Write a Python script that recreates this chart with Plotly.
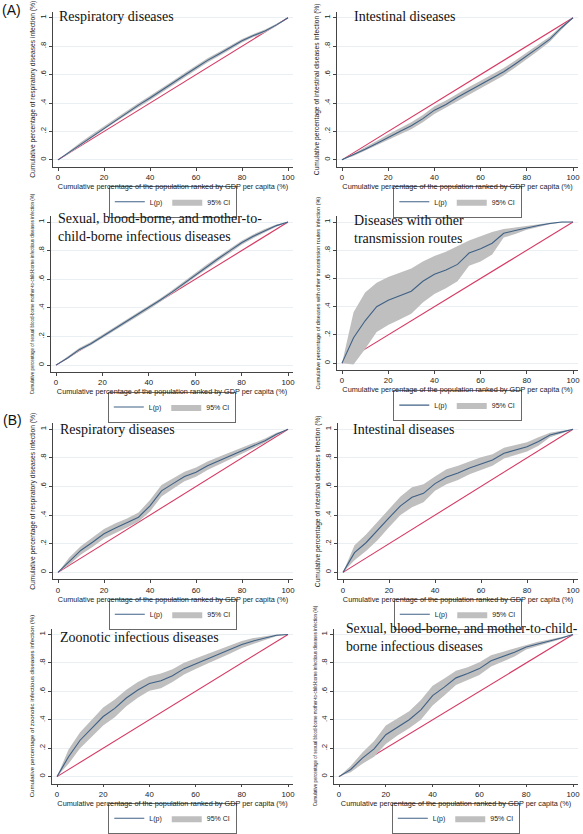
import plotly.graph_objects as go

W, H = 583, 834


def px(p):
    return p / W


def py(p):
    return 1 - p / H


# ---------------- data ----------------
P = [0, 5, 10, 15, 20, 25, 30, 35, 40, 45, 50, 55, 60, 65, 70, 75, 80, 85, 90, 95, 100]
EQ_X = [0, 100]
EQ_Y = [0, 1]

resp_a_L  = [0, .055, .115, .170, .225, .280, .335, .385, .435, .490, .540, .595, .648, .700, .745, .790, .838, .875, .907, .950, 1.0]
resp_a_lo = [0, .047, .104, .158, .212, .266, .320, .370, .419, .473, .523, .578, .632, .685, .731, .777, .826, .864, .897, .942, 1.0]
resp_a_hi = [0, .063, .126, .182, .238, .294, .350, .400, .451, .507, .557, .612, .664, .715, .759, .803, .850, .886, .917, .958, 1.0]

int_a_L  = [0, .035, .075, .115, .160, .200, .240, .290, .350, .390, .440, .485, .530, .575, .620, .675, .730, .790, .850, .930, 1.0]
int_a_lo = [0, .027, .062, .098, .140, .178, .216, .264, .322, .362, .412, .458, .503, .548, .594, .650, .707, .768, .832, .918, 1.0]
int_a_hi = [0, .043, .088, .132, .180, .222, .264, .316, .378, .418, .468, .512, .557, .602, .646, .700, .753, .812, .868, .942, 1.0]

sex_a_L  = [0, .050, .108, .150, .200, .250, .300, .350, .400, .455, .510, .570, .630, .690, .745, .800, .855, .900, .940, .975, 1.0]
sex_a_lo = [0, .042, .097, .138, .188, .238, .288, .338, .388, .443, .497, .556, .616, .676, .731, .786, .841, .887, .929, .967, 1.0]
sex_a_hi = [0, .058, .119, .162, .212, .262, .312, .362, .412, .467, .523, .584, .644, .704, .759, .814, .869, .913, .951, .983, 1.0]

oth_a_L  = [0, .180, .300, .400, .445, .480, .510, .580, .630, .660, .700, .780, .810, .850, .920, .940, .960, .975, .990, 1.0, 1.0]
oth_a_lo = [0, -.010, .100, .220, .270, .310, .350, .430, .490, .530, .580, .690, .720, .770, .890, .915, .945, .965, .985, .995, 1.0]
oth_a_hi = [0, .360, .500, .570, .610, .640, .670, .720, .760, .790, .830, .870, .900, .930, .950, .962, .975, .985, .995, 1.0, 1.0]

resp_b_L  = [0, .080, .155, .210, .270, .310, .345, .385, .465, .570, .620, .670, .700, .745, .780, .815, .850, .885, .920, .965, 1.0]
resp_b_lo = [0, .055, .125, .178, .237, .277, .313, .353, .425, .530, .585, .637, .668, .715, .752, .790, .828, .867, .905, .955, 1.0]
resp_b_hi = [0, .105, .185, .242, .303, .343, .377, .418, .505, .610, .655, .703, .732, .775, .808, .840, .872, .903, .935, .975, 1.0]

int_b_L  = [0, .138, .207, .290, .380, .465, .525, .552, .620, .667, .695, .730, .760, .785, .832, .855, .878, .915, .960, .980, 1.0]
int_b_lo = [0, .085, .150, .225, .315, .400, .455, .490, .570, .615, .645, .685, .715, .745, .795, .820, .845, .885, .945, .970, 1.0]
int_b_hi = [0, .190, .265, .355, .445, .530, .595, .615, .670, .720, .745, .775, .805, .825, .870, .890, .910, .945, .975, .990, 1.0]

zoo_b_L  = [0, .140, .256, .340, .423, .480, .553, .610, .656, .674, .710, .760, .795, .830, .865, .895, .930, .955, .975, .995, 1.0]
zoo_b_lo = [0, .090, .200, .280, .360, .418, .495, .555, .605, .622, .665, .718, .757, .795, .833, .866, .905, .935, .962, .988, 1.0]
zoo_b_hi = [0, .190, .312, .400, .486, .542, .611, .665, .707, .726, .755, .802, .833, .865, .897, .924, .955, .975, .988, 1.0, 1.0]

sex_b_L  = [0, .050, .130, .195, .295, .350, .400, .470, .570, .630, .695, .725, .760, .815, .845, .875, .912, .935, .955, .975, 1.0]
sex_b_lo = [0, .030, .090, .140, .230, .290, .340, .400, .500, .570, .645, .680, .715, .775, .810, .845, .895, .920, .945, .968, 1.0]
sex_b_hi = [0, .075, .170, .250, .360, .410, .460, .540, .640, .690, .745, .770, .805, .855, .880, .905, .930, .950, .965, .982, 1.0]

Y_TICKS = [0, 0.2, 0.4, 0.6, 0.8, 1]
Y_TICKTEXT = ["0", ".2", ".4", ".6", ".8", "1"]
X_TICKS = [0, 20, 40, 60, 80, 100]
X_TITLE = "Cumulative percentage of the population ranked by GDP per capita (%)"

TITLES = [
    "Respiratory diseases",
    "Intestinal diseases",
    "Sexual, blood-borne, and mother-to-<br>child-borne infectious diseases",
    "Diseases with other<br>transmission routes",
    "Respiratory diseases",
    "Intestinal diseases",
    "Zoonotic infectious diseases",
    "Sexual, blood-borne, and mother-to-child-<br>borne infectious diseases",
]
Y_TITLES = [
    "Cumulative percentage of respiratory diseases infection (%)",
    "Cumulative percentage of intestinal diseases infection (%)",
    "Cumulative percentage of sexual blood-borne mother-to-child-borne infectious diseases infection (%)",
    "Cumulative percentage of diseases with other transmission routes infection (%)",
    "Cumulative percentage of respiratory diseases infection (%)",
    "Cumulative percentage of intestinal diseases infection (%)",
    "Cumulative percentage of zoonotic infectious diseases infection (%)",
    "Cumulative percentage of sexual blood-borne mother-to-child-borne infectious diseases infection (%)",
]
SERIES = [
    (resp_a_L, resp_a_lo, resp_a_hi),
    (int_a_L, int_a_lo, int_a_hi),
    (sex_a_L, sex_a_lo, sex_a_hi),
    (oth_a_L, oth_a_lo, oth_a_hi),
    (resp_b_L, resp_b_lo, resp_b_hi),
    (int_b_L, int_b_lo, int_b_hi),
    (zoo_b_L, zoo_b_lo, zoo_b_hi),
    (sex_b_L, sex_b_lo, sex_b_hi),
]

# ---------------- layout geometry (window pixels) ----------------
# (x of 0, x of 100, y of 0, y of 1)
PANEL_PX = [
    (58, 288, 162, 18),
    (342, 573, 162, 18),
    (56, 288, 370, 225),
    (342, 573, 368, 225),
    (58, 288, 580, 435),
    (343, 573, 580, 435),
    (57, 288, 787, 643),
    (339, 573, 787, 643),
]
YT_SIZE = [6.7, 6.7, 4.5, 5.5, 6.7, 6.7, 6.1, 4.5]
TITLE_POS = [(57, 17), (352, 17), (56, 231), (352, 233), (58, 435), (351, 435), (58, 646), (344, 646)]
TITLE_SIZE = [14, 14, 14, 14, 14, 14, 14, 13.7]

PAD_L, PAD_R, PAD_B, PAD_T = 5, 5, 7, 6

BLUE = "#3f6186"
RED = "#d63a64"
GRAY = "#bfbfbf"
AX_FONT = "Liberation Sans, Arial, sans-serif"
SERIF = "Liberation Serif, Times New Roman, serif"

fig = go.Figure()
layout = dict(
    width=W, height=H,
    margin=dict(l=0, r=0, t=0, b=0),
    paper_bgcolor="white", plot_bgcolor="white",
    showlegend=True,
    font=dict(family=AX_FONT, color="#222"),
)
annotations = []

for i in range(8):
    n = i + 1
    xs = "" if n == 1 else str(n)
    x0, x100, y0, y1 = PANEL_PX[i]
    ppx = (x100 - x0) / 100.0
    ppy = float(y0 - y1)
    xd = [px(x0 - PAD_L), px(x100 + PAD_R)]
    yd = [py(y0 + PAD_B), py(y1 - PAD_T)]
    xr = [-PAD_L / ppx, 100 + PAD_R / ppx]
    yr = [-PAD_B / ppy, 1 + PAD_T / ppy]
    L, lo, hi = SERIES[i]
    leg = "legend" if n == 1 else "legend%d" % n

    fig.add_trace(go.Scatter(x=EQ_X, y=EQ_Y, mode="lines", line=dict(color=RED, width=1.1),
                             showlegend=False, xaxis="x" + xs, yaxis="y" + xs, hoverinfo="skip"))
    fig.add_trace(go.Scatter(x=P + P[::-1], y=hi + lo[::-1], mode="lines", fill="toself",
                             fillcolor=GRAY, line=dict(width=0, color=GRAY), name="95% CI",
                             legend=leg, legendrank=2, xaxis="x" + xs, yaxis="y" + xs))
    fig.add_trace(go.Scatter(x=P, y=L, mode="lines", line=dict(color=BLUE, width=1.1),
                             name="L(p)", legend=leg, legendrank=1, xaxis="x" + xs, yaxis="y" + xs))

    layout["xaxis" + xs] = dict(
        domain=xd, range=xr, anchor="y" + xs, tickvals=X_TICKS, ticks="outside", ticklen=3,
        tickwidth=0.8, tickcolor="#444", showline=True, linecolor="#444", linewidth=0.8,
        showgrid=False, zeroline=False, tickfont=dict(size=7.8, family=AX_FONT, color="#222"),
        ticklabeloverflow="allow",
        title=dict(text=X_TITLE, font=dict(size=7.3, family=AX_FONT, color="#222"), standoff=1),
        automargin=False,
    )
    layout["yaxis" + xs] = dict(
        domain=yd, range=yr, anchor="x" + xs, tickvals=Y_TICKS, ticktext=Y_TICKTEXT,
        tickangle=-90, ticks="outside", ticklen=3, tickwidth=0.8, tickcolor="#444",
        showline=True, linecolor="#444", linewidth=0.8, showgrid=True, gridcolor="#e9eff3",
        gridwidth=0.8, zeroline=False, tickfont=dict(size=7.8, family=AX_FONT, color="#222"),
        ticklabeloverflow="allow",
        title=dict(text=Y_TITLES[i], font=dict(size=YT_SIZE[i], family=AX_FONT, color="#222"),
                   standoff=2),
        automargin=False,
    )
    layout[leg] = dict(
        x=px((x0 + x100) / 2), y=py(y0 + 27), xanchor="center", yanchor="top",
        orientation="h", bordercolor="#444", borderwidth=0.8, bgcolor="white",
        font=dict(size=7, family=AX_FONT, color="#222"), itemwidth=30, tracegroupgap=0,
        traceorder="normal",
    )
    tx, ty = TITLE_POS[i]
    annotations.append(dict(text=TITLES[i], x=px(tx), y=py(ty), xref="paper", yref="paper",
                            xanchor="left", yanchor="middle", align="left", showarrow=False,
                            font=dict(size=TITLE_SIZE[i], family=SERIF, color="#111")))

annotations.append(dict(text="(A)", x=px(0), y=py(10), xref="paper", yref="paper",
                        xanchor="left", yanchor="middle", showarrow=False,
                        font=dict(size=14, family=AX_FONT, color="#111")))
annotations.append(dict(text="(B)", x=px(1), y=py(426), xref="paper", yref="paper",
                        xanchor="left", yanchor="middle", showarrow=False,
                        font=dict(size=14, family=AX_FONT, color="#111")))
layout["annotations"] = annotations

fig.update_layout(**layout)
# remove the default page margin so the 583x834 figure fills the window exactly
fig.write_html("out.html", config={"displayModeBar": False},
               post_script="document.body.style.margin='0';document.body.style.overflow='hidden';")
